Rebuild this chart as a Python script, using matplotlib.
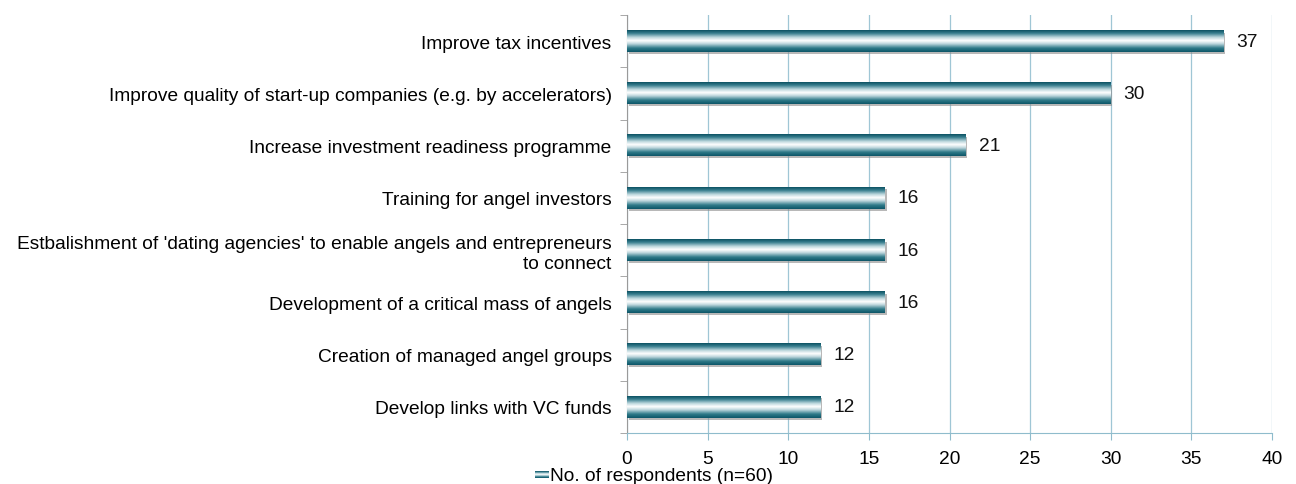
import numpy as np
import matplotlib.pyplot as plt
from matplotlib.colors import LinearSegmentedColormap
from matplotlib.patches import Rectangle

plt.rcParams['font.family'] = ['Liberation Sans', 'DejaVu Sans']

# answers, top to bottom
categories = [
    'Improve tax incentives',
    'Improve quality of start-up companies (e.g. by accelerators)',
    'Increase investment readiness programme',
    'Training for angel investors',
    "Estbalishment of 'dating agencies' to enable angels and entrepreneurs\nto connect",
    'Development of a critical mass of angels',
    'Creation of managed angel groups',
    'Develop links with VC funds',
]
respondents = [37, 30, 21, 16, 16, 16, 12, 12]
series_label = 'No. of respondents (n=60)'
x_ticks = [0, 5, 10, 15, 20, 25, 30, 35, 40]

# cylinder-like shading of the bars
cyl = LinearSegmentedColormap.from_list('cyl', [
    (0.0, '#0a5061'), (0.15, '#3a8090'), (0.33, '#bcd7dd'),
    (0.48, '#ffffff'), (0.62, '#c0d8de'), (0.82, '#2f7a89'),
    (1.0, '#0c5567')])
grad = np.linspace(0, 1, 256).reshape(-1, 1)
FS = 13.8

fig = plt.figure(figsize=(12.96, 4.85), dpi=100)
ax = fig.add_axes([627 / 1296, 1 - 434 / 485, (1272 - 627) / 1296, (434 - 16) / 485])

y = np.arange(len(categories))
h = 0.41
bars = ax.barh(y, respondents, height=h, color='none', zorder=3)
for b, v in zip(bars, respondents):
    y0 = b.get_y()
    # soft shadow under the bar
    ax.add_patch(Rectangle((0.1, y0 + 0.04), v, h, color='#8a8a8a', alpha=0.6,
                           lw=0, zorder=2))
    ax.imshow(grad, cmap=cyl, aspect='auto', extent=(0, v, y0 + h, y0),
              zorder=3, interpolation='bilinear')
    ax.text(v + 0.8, b.get_y() + h / 2, str(v), va='center', ha='left',
            fontsize=FS, color='#111111')

ax.set_xlim(0, 40)
ax.set_ylim(len(categories) - 0.5, -0.5)
ax.set_xticks(x_ticks)
ax.set_xticklabels([str(t) for t in x_ticks], fontsize=FS)
ax.set_yticks(y)
ax.set_yticklabels(categories, fontsize=FS, ha='right', multialignment='right')
ax.set_yticks(np.arange(len(categories) + 1) - 0.5, minor=True)
ax.tick_params(axis='y', which='major', length=0, pad=11)
ax.tick_params(axis='y', which='minor', length=5, color='#9a9a9a')
ax.tick_params(axis='x', length=5, color='#8fbccc', pad=7)

ax.grid(axis='x', color='#9fc6d5', lw=0.9, zorder=0)
for s in ['top', 'right']:
    ax.spines[s].set_visible(False)
ax.spines['left'].set_color('#9a9a9a')
ax.spines['bottom'].set_color('#8fbccc')

# legend entry with a small shaded swatch
lax = fig.add_axes([535 / 1296, 1 - 479 / 485, 14 / 1296, 7 / 485])
lax.imshow(grad, cmap=cyl, aspect='auto', interpolation='bilinear')
lax.axis('off')
fig.text(550 / 1296, 1 - 477 / 485, series_label, fontsize=FS, va='center', ha='left')

fig.savefig('out.png', dpi=100)
